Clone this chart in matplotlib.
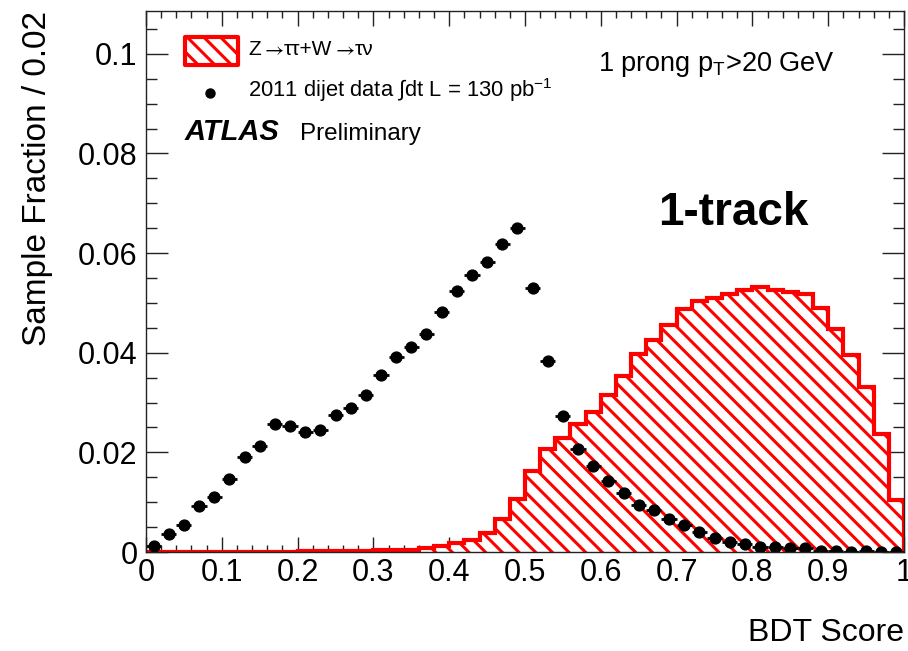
import numpy as np
import matplotlib
matplotlib.use("Agg")
import matplotlib.pyplot as plt
from matplotlib.ticker import MultipleLocator, FuncFormatter
from matplotlib import patches
from matplotlib.offsetbox import TextArea, HPacker, AnchoredOffsetbox

plt.rcParams["font.family"] = ["Liberation Sans", "DejaVu Sans"]
plt.rcParams["mathtext.fontset"] = "custom"
plt.rcParams["mathtext.rm"] = "Liberation Sans"
plt.rcParams["mathtext.it"] = "Liberation Sans:italic"
plt.rcParams["mathtext.bf"] = "Liberation Sans:bold"
plt.rcParams["hatch.linewidth"] = 2.2

# 50 bins of width 0.02 between 0 and 1
edges = np.linspace(0, 1, 51)
centers = 0.5 * (edges[:-1] + edges[1:])

# Z->tautau + W->taunu (signal), fraction per bin
signal = [
    0.0000, 0.0000, 0.0000, 0.0000, 0.0000,
    0.0001, 0.0001, 0.0001, 0.0001, 0.0001,
    0.0002, 0.0002, 0.0002, 0.0002, 0.0003,
    0.0004, 0.0005, 0.0005, 0.0008, 0.0012,
    0.0018, 0.0025, 0.0038, 0.0066, 0.0106,
    0.0163, 0.0207, 0.0228, 0.0256, 0.0282,
    0.0315, 0.0354, 0.0397, 0.0426, 0.0456,
    0.0487, 0.0504, 0.0509, 0.0518, 0.0525,
    0.0532, 0.0525, 0.0521, 0.0518, 0.0489,
    0.0447, 0.0396, 0.0331, 0.0236, 0.0104,
]

# 2011 dijet data, fraction per bin
dijet = [
    0.0012, 0.0036, 0.0054, 0.0092, 0.0110,
    0.0146, 0.0191, 0.0213, 0.0257, 0.0252,
    0.0241, 0.0245, 0.0275, 0.0289, 0.0316,
    0.0356, 0.0391, 0.0412, 0.0438, 0.0481,
    0.0524, 0.0557, 0.0583, 0.0618, 0.0651,
    0.0530, 0.0384, 0.0274, 0.0206, 0.0173,
    0.0143, 0.0119, 0.0094, 0.0084, 0.0066,
    0.0054, 0.0041, 0.0028, 0.0021, 0.0017,
    0.0011, 0.0011, 0.0008, 0.0009, 0.0003,
    0.0003, 0.0001, 0.0002, 0.0001, 0.0000,
]

fig = plt.figure(figsize=(9.08, 6.51), dpi=100)
ax = fig.add_axes([146 / 908, 99 / 651, 758 / 908, 541 / 651])

# signal histogram: hatched fill + thick red outline
ax.stairs(signal, edges, fill=True, facecolor="white", edgecolor="red",
          hatch="\\\\", linewidth=0, zorder=2)
ax.stairs(signal, edges, color="red", linewidth=3, zorder=3)

# data points
ax.errorbar(centers, dijet, xerr=0.01, fmt="o", color="black", ms=7.8,
            elinewidth=2, capsize=0, zorder=4)

ax.set_xlim(0, 1)
ax.set_ylim(0, 0.1086)

ax.xaxis.set_major_locator(MultipleLocator(0.1))
ax.xaxis.set_minor_locator(MultipleLocator(0.02))
ax.yaxis.set_major_locator(MultipleLocator(0.02))
ax.yaxis.set_minor_locator(MultipleLocator(0.005))
fmt = FuncFormatter(lambda v, p: f"{v:g}" if abs(v) > 1e-9 else "0")
ax.xaxis.set_major_formatter(fmt)
ax.yaxis.set_major_formatter(fmt)

ax.tick_params(axis="both", which="both", direction="in", top=True, right=True,
               labelsize=22, width=1, color="#222222")
ax.tick_params(axis="x", which="major", length=11, pad=4)
ax.tick_params(axis="x", which="minor", length=5)
ax.tick_params(axis="y", which="major", length=16, pad=6)
ax.tick_params(axis="y", which="minor", length=8)
for s in ax.spines.values():
    s.set_linewidth(1.0)
    s.set_color("#222222")
    s.set_zorder(6)

ax.set_ylabel("Sample Fraction / 0.02", fontsize=24, loc="top", labelpad=18)
ax.set_xlabel("BDT Score", fontsize=23, loc="right", labelpad=22)

# legend, drawn by hand like the ROOT one
box = patches.Rectangle((0.0515, 0.900), 0.070, 0.052, transform=ax.transAxes,
                        facecolor="white", edgecolor="red", hatch="\\\\",
                        linewidth=3, joinstyle="round", clip_on=False, zorder=5)
ax.add_patch(box)

# signal label: thin arrows from the stix math font, the rest in Liberation Sans
arrow_props = dict(fontsize=15, math_fontfamily="stix")
plain_props = dict(fontsize=15)
pieces = [("Z", plain_props), ("$\\rightarrow$", arrow_props), ("\u03c4\u03c4+W", plain_props),
          ("$\\rightarrow$", arrow_props), ("\u03c4\u03bd", plain_props)]
label = HPacker(children=[TextArea(t, textprops=p) for t, p in pieces],
                align="baseline", pad=0, sep=0)
ab = AnchoredOffsetbox(loc="center left", child=label, pad=0, borderpad=0,
                       frameon=False, bbox_to_anchor=(0.1346, 0.928),
                       bbox_transform=ax.transAxes)
ax.add_artist(ab)

ax.plot([0.0844], [0.848], "o", color="black", ms=6.5, transform=ax.transAxes,
        clip_on=False)
ax.text(0.1346, 0.8416, "2011 dijet data \u222bdt L = 130 pb$^{-1}$",
        transform=ax.transAxes, fontsize=15.8, va="baseline", ha="left")

ax.text(0.0515, 0.7616, "ATLAS", transform=ax.transAxes, fontsize=21,
        fontweight="bold", fontstyle="italic", va="baseline", ha="left")
ax.text(0.203, 0.7616, "Preliminary", transform=ax.transAxes, fontsize=17.5,
        va="baseline", ha="left")

ax.text(0.596, 0.889, "1 prong p$_{\\mathrm{T}}$>20 GeV", transform=ax.transAxes,
        fontsize=19.5, va="baseline", ha="left")

ax.text(0.7744, 0.6044, "1-track", transform=ax.transAxes, fontsize=33,
        fontweight="bold", va="baseline", ha="center")

fig.savefig("out.png", dpi=100)
